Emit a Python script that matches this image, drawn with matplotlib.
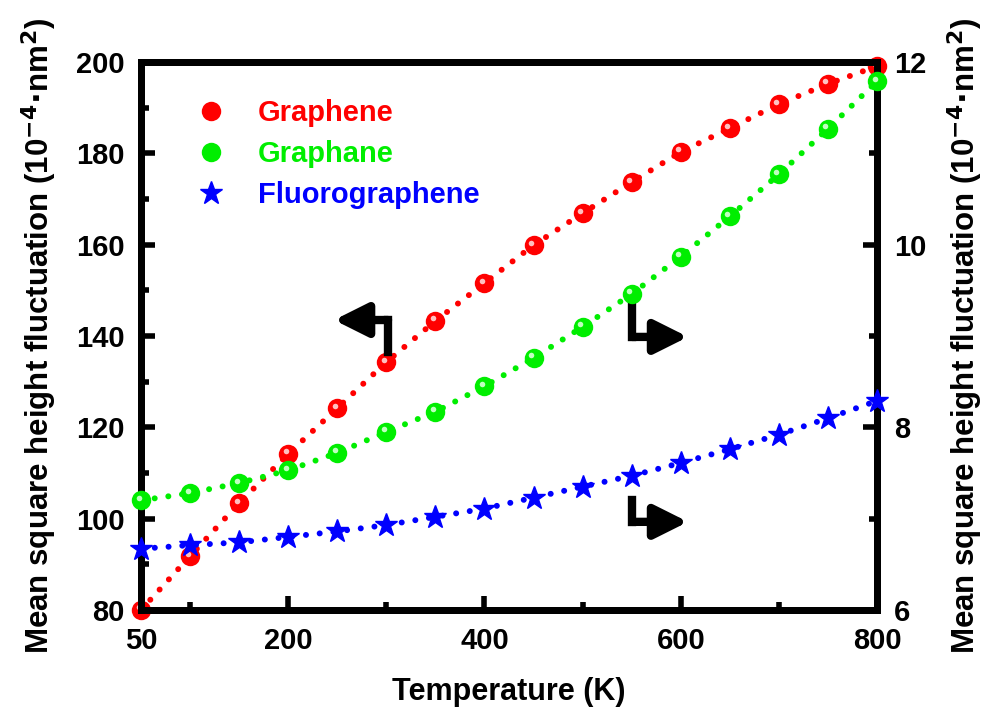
import numpy as np
import matplotlib.pyplot as plt
from matplotlib.ticker import MultipleLocator, FixedLocator
from matplotlib.transforms import offset_copy

plt.rcParams['font.family'] = ['Liberation Sans', 'DejaVu Sans']
plt.rcParams['font.weight'] = 'bold'

temperature = [50, 100, 150, 200, 250, 300, 350, 400, 450, 500, 550, 600, 650, 700, 750, 800]
graphene = [80.0, 91.8, 103.4, 114.2, 124.2, 134.3, 143.3, 151.6, 159.9, 166.9,
            173.7, 180.3, 185.5, 190.8, 195.2, 199.1]
graphane = [7.20, 7.28, 7.39, 7.53, 7.72, 7.95, 8.17, 8.45, 8.76, 9.10,
            9.46, 9.87, 10.31, 10.77, 11.27, 11.79]
fluorographene = [6.67, 6.71, 6.74, 6.80, 6.86, 6.93, 7.02, 7.11, 7.23, 7.35,
                  7.47, 7.61, 7.76, 7.92, 8.10, 8.29]

fig = plt.figure(figsize=(9.98, 7.13), dpi=100)
ax = fig.add_axes([0.1413, 0.1445, 0.7375, 0.7685])
ax2 = ax.twinx()

dots = dict(linestyle=(0, (0.01, 2.3)), linewidth=4.3, dash_capstyle='round')
# small shine on the spheres, shifted up-left
shine1 = offset_copy(ax.transData, fig=fig, x=-2.5, y=2.5, units='dots')
shine2 = offset_copy(ax2.transData, fig=fig, x=-2.5, y=2.5, units='dots')

ax.plot(temperature, graphene, color='#ff0000', **dots, zorder=2, clip_on=False)
ax.plot(temperature, graphene, 'o', color='#ff0000', ms=14, mew=0, zorder=3,
        label='Graphene', clip_on=False)
ax.plot(temperature, graphene, 'o', color='#ffc0c0', ms=4, mew=0, zorder=4,
        clip_on=False, transform=shine1)

ax2.plot(temperature, graphane, color='#00ee00', **dots, zorder=2, clip_on=False)
ax2.plot(temperature, graphane, 'o', color='#00ee00', ms=14, mew=0, zorder=3,
         label='Graphane', clip_on=False)
ax2.plot(temperature, graphane, 'o', color='#c0ffc0', ms=4, mew=0, zorder=4,
         clip_on=False, transform=shine2)

ax2.plot(temperature, fluorographene, color='#0000ff', **dots, zorder=2, clip_on=False)
ax2.plot(temperature, fluorographene, '*', color='#0000ff', ms=17, zorder=3,
         label='Fluorographene', clip_on=False)

# axes ranges and ticks
ax.set_xlim(50, 800)
ax.set_ylim(80, 200)
ax2.set_ylim(6, 12)
ax.xaxis.set_major_locator(FixedLocator([50, 200, 400, 600, 800]))
ax.xaxis.set_minor_locator(FixedLocator([100, 300, 500, 700]))
ax.yaxis.set_major_locator(MultipleLocator(20))
ax.yaxis.set_minor_locator(MultipleLocator(10))
ax2.yaxis.set_major_locator(MultipleLocator(2))
ax2.yaxis.set_minor_locator(MultipleLocator(1))

for a in (ax, ax2):
    a.tick_params(which='major', direction='in', length=10, width=4, labelsize=21, pad=12)
    a.tick_params(which='minor', direction='in', length=6, width=4)
    for s in a.spines.values():
        s.set_linewidth(5)
ax.tick_params(top=False, which='both')

ylab = 'Mean square height fluctuation (10$^{\\mathbf{-4}}$$\\mathbf{\\cdot}$nm$^{\\mathbf{2}}$)'
ax.set_ylabel(ylab, fontsize=22.5, fontweight='bold', labelpad=12)
ax2.set_ylabel(ylab, fontsize=22.5, fontweight='bold', labelpad=14)
ax.set_xlabel('Temperature (K)', fontsize=22, fontweight='bold', labelpad=16)

# bent arrows pointing to the axis each curve belongs to
def bent_arrow(x0, y0, y1, x1):
    ax.plot([x0, x0], [y0, y1], color='k', lw=6, solid_capstyle='projecting', zorder=5)
    ax.annotate('', xy=(x1, y1), xytext=(x0, y1),
                arrowprops=dict(arrowstyle='-|>,head_length=2.0,head_width=1.0',
                                lw=6, color='k', shrinkA=0, shrinkB=0), zorder=5)

bent_arrow(301.7, 136.5, 143.5, 246.7)
bent_arrow(550.4, 146.8, 139.8, 607.4)
bent_arrow(550.4, 104.1, 99.3, 607.4)

h1, l1 = ax.get_legend_handles_labels()
h2, l2 = ax2.get_legend_handles_labels()
leg = ax2.legend(h1 + h2, l1 + l2, loc='upper left', bbox_to_anchor=(0.02, 0.98),
                 frameon=False, handletextpad=0.6, labelspacing=0.45,
                 prop={'weight': 'bold', 'size': 21})
for txt, c in zip(leg.get_texts(), ['#ff0000', '#00ee00', '#0000ff']):
    txt.set_color(c)

fig.savefig('out.png', dpi=100)
